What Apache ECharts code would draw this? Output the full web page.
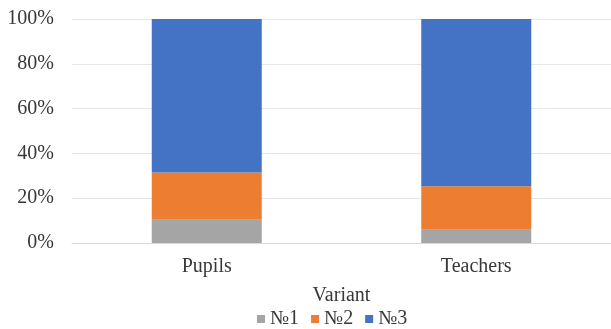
<!DOCTYPE html>
<html>
<head>
<meta charset="UTF-8"/>
<title>Variant</title>
<script type="text/javascript" src="https://cdn.jsdelivr.net/npm/echarts@6/dist/echarts.min.js"></script>
<style>html,body{margin:0;padding:0;background:#fff;}</style>
</head>
<body>
<div id="main" style="width:611px;height:329px;"></div>
<script type="text/javascript">
    // data (percent of each group)
    var categories = ['Pupils', 'Teachers'];
    var seriesNames = ['№1', '№2', '№3'];
    var v1 = [10.4, 5.9];
    var v2 = [21.1, 19.4];
    var v3 = [68.5, 74.7];
    var yTicks = [0, 20, 40, 60, 80, 100];

    var colors = ['#A5A5A5', '#ED7D31', '#4472C4'];
    var font = 'Liberation Serif';
    var txt = '#383838';

    var myChart = echarts.init(document.getElementById('main'));

    var option = {
        animation: false,
        textStyle: {fontFamily: font},
        grid: {left: 72, width: 545, top: 19, bottom: 86},
        legend: {
            data: seriesNames,
            bottom: 0,
            left: 257,
            padding: 0,
            itemWidth: 8,
            itemHeight: 8,
            itemGap: 12,
            icon: 'rect',
            textStyle: {fontFamily: font, fontSize: 20, color: txt}
        },
        xAxis: {
            type: 'category',
            data: categories,
            name: 'Variant',
            nameLocation: 'middle',
            nameGap: 43,
            nameTextStyle: {fontFamily: font, fontSize: 20, color: txt},
            axisLine: {lineStyle: {color: '#D9D9D9'}},
            axisTick: {show: false},
            axisLabel: {fontFamily: font, fontSize: 20, color: txt, margin: 14}
        },
        yAxis: {
            type: 'value',
            min: 0,
            max: 100,
            interval: 20,
            axisLine: {show: false},
            axisTick: {show: false},
            splitLine: {lineStyle: {color: '#E6E6E6'}},
            axisLabel: {
                fontFamily: font, fontSize: 20, color: txt, margin: 18,
                formatter: function (v) { return yTicks.indexOf(v) >= 0 ? v + '%' : ''; }
            }
        },
        series: [
            {name: seriesNames[0], type: 'bar', stack: 'a', barWidth: 110, data: v1, itemStyle: {color: colors[0]}},
            {name: seriesNames[1], type: 'bar', stack: 'a', barWidth: 110, data: v2, itemStyle: {color: colors[1]}},
            {name: seriesNames[2], type: 'bar', stack: 'a', barWidth: 110, data: v3, itemStyle: {color: colors[2]}}
        ]
    };
    myChart.setOption(option);
</script>
</body>
</html>
